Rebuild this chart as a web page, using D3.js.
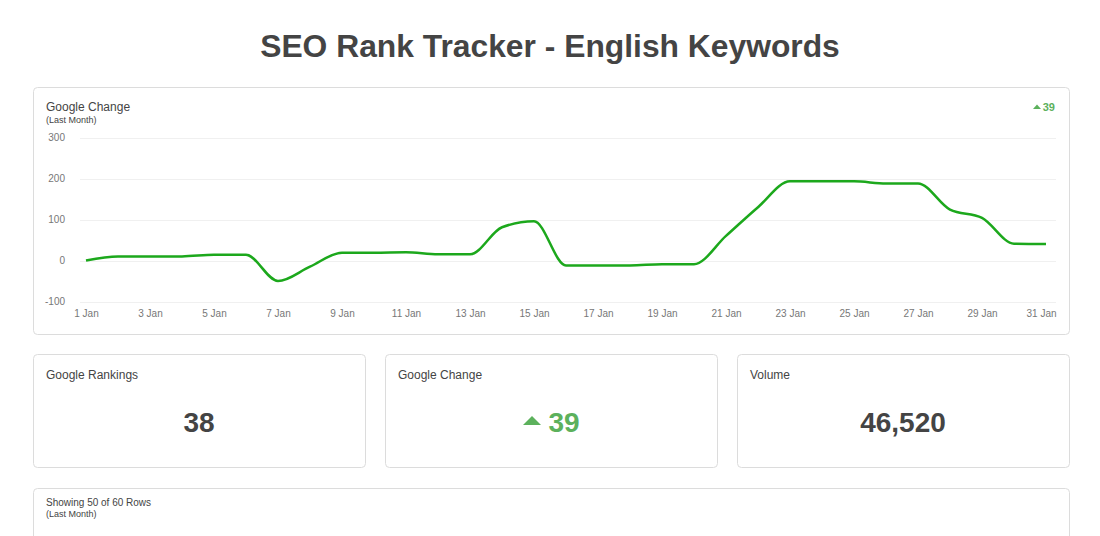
<!DOCTYPE html>
<html><head><meta charset="utf-8">
<script src="https://cdn.jsdelivr.net/npm/d3@7"></script>
<style>
html,body{margin:0;padding:0;background:#fff;}
svg{display:block;font-family:"Liberation Sans",Arial,sans-serif;}
</style></head>
<body>
<svg id="c" width="1100" height="536"></svg>
<script>
const days = d3.range(1, 32);
const dayLabels = days.map(d => d + " Jan");
const changeValues = [0, 10, 10, 10, 14, 14, -50, -15, 19, 19, 20, 15, 15, 81, 96, -12, -12, -12, -9, -9, 60, 130, 193, 193, 193, 188, 188, 124, 104, 41, 40];
const yTicks = [-100, 0, 100, 200, 300];
const xTickDays = [1, 3, 5, 7, 9, 11, 13, 15, 17, 19, 21, 23, 25, 27, 29, 31];
const statTitles = ["Google Rankings", "Google Change", "Volume"];
const statValues = [38, 39, 46520];

const svg = d3.select("#c");
const green = "#1ca81c";
const statGreen = "#5cb15c";
const textCol = "#444";

// Title
svg.append("text").attr("x", 550).attr("y", 57).attr("text-anchor", "middle")
  .attr("font-size", 31.8).attr("font-weight", "bold").attr("fill", textCol)
  .text("SEO Rank Tracker - English Keywords");

function card(x, y, w, h) {
  svg.append("rect").attr("x", x + 0.5).attr("y", y + 0.5).attr("width", w).attr("height", h)
    .attr("rx", 4).attr("fill", "#fff").attr("stroke", "#dcdcdc");
}

// Main chart card
card(33, 87, 1036, 247);
svg.append("text").attr("x", 46).attr("y", 111).attr("font-size", 12).attr("fill", textCol).text("Google Change");
svg.append("text").attr("x", 46).attr("y", 123).attr("font-size", 9).attr("fill", textCol).text("(Last Month)");

// top-right change
const trG = svg.append("g");
trG.append("text").attr("x", 1055).attr("y", 111).attr("text-anchor", "end")
  .attr("font-size", 11).attr("font-weight", "bold").attr("fill", statGreen).text(statValues[1]);
trG.append("path").attr("d", "M1033,109 L1037,104.5 L1041,109 Z").attr("fill", statGreen);

const x = d3.scaleLinear().domain([1, 31]).range([86, 1046]);
const y = d3.scaleLinear().domain([-100, 300]).range([301.5, 137.5]);

// grid
svg.append("g").selectAll("line").data(yTicks).join("line")
  .attr("x1", 80).attr("x2", 1056)
  .attr("y1", d => Math.round(y(d)) + 0.5).attr("y2", d => Math.round(y(d)) + 0.5)
  .attr("stroke", "#f0f0f0");

// y axis labels
const yAxis = d3.axisLeft(y).tickValues(yTicks).tickSize(0).tickPadding(0).tickFormat(d => String(d));
const yg = svg.append("g").attr("transform", "translate(65,0)").call(yAxis);
yg.select(".domain").remove();
yg.selectAll("text").attr("font-size", 10).attr("fill", "#777").attr("font-family", "Liberation Sans, Arial, sans-serif")
  .attr("text-anchor", "end");

// x axis labels
const xAxis = d3.axisBottom(x).tickValues(xTickDays).tickSize(0).tickPadding(0)
  .tickFormat(d => dayLabels[d - 1]);
const xg = svg.append("g").attr("transform", "translate(0,310)").call(xAxis);
xg.select(".domain").remove();
xg.selectAll("text").attr("font-size", 10).attr("fill", "#777").attr("font-family", "Liberation Sans, Arial, sans-serif");
xg.selectAll(".tick").filter(d => d === 31).select("text").attr("dx", -5);

// line
const line = d3.line().x((d, i) => x(days[i])).y(d => y(d)).curve(d3.curveMonotoneX);
svg.append("path").datum(changeValues).attr("d", line)
  .attr("fill", "none").attr("stroke", green).attr("stroke-width", 2.5).attr("stroke-linejoin", "round");

// stat cards
const cardXs = [33, 385, 737];
const fmt = d3.format(",");
statTitles.forEach((t, i) => {
  const cx = cardXs[i];
  card(cx, 354, 332, 113);
  svg.append("text").attr("x", cx + 13).attr("y", 379).attr("font-size", 12).attr("fill", textCol).text(t);
  const mid = cx + 166;
  if (i === 1) {
    const g = svg.append("g");
    g.append("text").attr("x", mid + 13).attr("y", 432).attr("text-anchor", "middle")
      .attr("font-size", 28).attr("font-weight", "bold").attr("fill", statGreen).text(statValues[i]);
    g.append("path").attr("d", `M${mid - 28},425 L${mid - 19},416 L${mid - 10},425 Z`).attr("fill", statGreen);
  } else {
    svg.append("text").attr("x", mid).attr("y", 432).attr("text-anchor", "middle")
      .attr("font-size", 28).attr("font-weight", "bold").attr("fill", textCol).text(fmt(statValues[i]));
  }
});

// bottom card
card(33, 488, 1036, 80);
svg.append("text").attr("x", 46).attr("y", 506).attr("font-size", 10).attr("fill", textCol).text("Showing 50 of 60 Rows");
svg.append("text").attr("x", 46).attr("y", 517).attr("font-size", 9).attr("fill", textCol).text("(Last Month)");
</script>
</body></html>
